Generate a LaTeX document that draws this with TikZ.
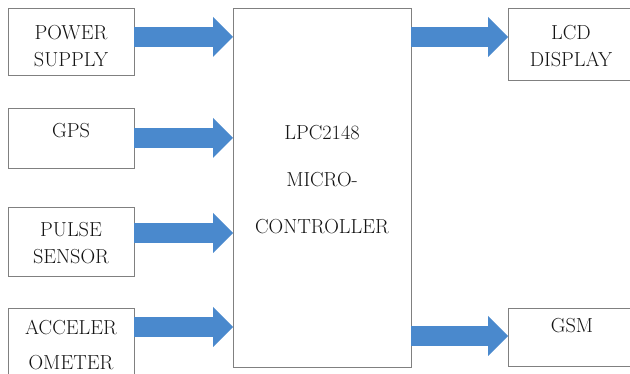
\documentclass[tikz,border=0pt]{standalone}
\usetikzlibrary{arrows.meta}
\definecolor{arrowblue}{RGB}{74,137,205}
\definecolor{boxgray}{RGB}{128,128,128}
\definecolor{txtgray}{RGB}{20,20,20}
\begin{document}
\begin{tikzpicture}[x=1pt,y=-1pt,
  box/.style={draw=boxgray, line width=0.9pt, rectangle, inner sep=0pt, outer sep=0pt, anchor=north west},
  txt/.style={font=\fontsize{20.3}{27}\selectfont, align=center, inner sep=0pt, anchor=north, text=txtgray},
  flow/.style={draw=arrowblue, line width=20pt, line cap=butt,
    -{Triangle[length=20pt,width=40pt,line width=0pt]}}]
\useasboundingbox (0,0) rectangle (630,374);
\fill[white] (0,0) rectangle (630,374);
% boxes
\node[box, minimum width=126pt, minimum height=67pt] (ps) at (8,8) {};
\node[box, minimum width=126pt, minimum height=60pt] (gps) at (8,108) {};
\node[box, minimum width=126pt, minimum height=69pt] (pulse) at (8,207) {};
\node[box, minimum width=126pt, minimum height=82pt] (acc) at (8,308) {};
\node[box, minimum width=178pt, minimum height=359pt] (mc) at (233,8) {};
\node[box, minimum width=132pt, minimum height=72pt] (lcd) at (508,8) {};
\node[box, minimum width=132pt, minimum height=58pt] (gsm) at (508,308) {};
% texts
\node[txt] (pst) at (71,25) {POWER\\SUPPLY};
\node[txt] (gpst) at (71,123) {GPS};
\node[txt] (pulset) at (71,222) {PULSE\\SENSOR};
\node[txt] (acct) at (71,320) {ACCELER\\[8pt]OMETER};
\node[txt, font=\fontsize{20.3}{47}\selectfont] (mct) at (322,125) {LPC2148\\MICRO-\\CONTROLLER};
\node[txt] (lcdt) at (571,25) {LCD\\DISPLAY};
\node[txt] (gsmt) at (572,318) {GSM};
% arrows
\draw[flow] (ps.east |- 0,37) -- (mc.west |- 0,37);
\draw[flow] (gps.east |- 0,138) -- (mc.west |- 0,138);
\draw[flow] (pulse.east |- 0,233) -- (mc.west |- 0,233);
\draw[flow] (acc.east |- 0,327) -- (mc.west |- 0,327);
\draw[flow] (mc.east |- 0,37) -- (lcd.west |- 0,37);
\draw[flow] (mc.east |- 0,336) -- (gsm.west |- 0,336);
\end{tikzpicture}
\end{document}
